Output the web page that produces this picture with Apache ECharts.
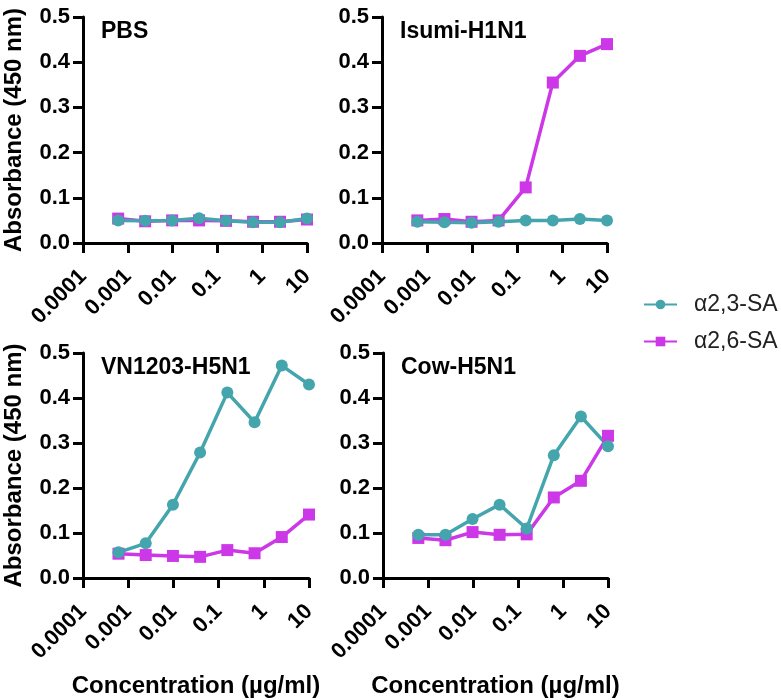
<!DOCTYPE html>
<html>
<head>
<meta charset="utf-8">
<script src="https://cdn.jsdelivr.net/npm/echarts@6/dist/echarts.min.js"></script>
<style>
  html, body { margin: 0; padding: 0; background: #fff; }
  #chart { width: 781px; height: 700px; }
</style>
</head>
<body>
<div id="chart"></div>
<script>
// 4-fold dilutions, ug/ml
const conc = [0.00061, 0.00244, 0.00977, 0.039, 0.156, 0.625, 2.5, 10];

const panels = ['PBS', 'Isumi-H1N1', 'VN1203-H5N1', 'Cow-H5N1'];

// α2,3-SA
const sa23 = [
  [0.050, 0.049, 0.050, 0.055, 0.049, 0.046, 0.046, 0.054],
  [0.047, 0.046, 0.045, 0.047, 0.050, 0.050, 0.053, 0.050],
  [0.057, 0.077, 0.163, 0.279, 0.412, 0.346, 0.472, 0.430],
  [0.096, 0.096, 0.131, 0.163, 0.110, 0.273, 0.359, 0.293]
];
// α2,6-SA
const sa26 = [
  [0.054, 0.048, 0.050, 0.050, 0.049, 0.047, 0.047, 0.052],
  [0.050, 0.053, 0.047, 0.050, 0.123, 0.355, 0.414, 0.440],
  [0.054, 0.051, 0.049, 0.047, 0.062, 0.055, 0.091, 0.141],
  [0.089, 0.084, 0.102, 0.096, 0.097, 0.179, 0.216, 0.316]
];

const teal = '#45a5ad';
const magenta = '#cc38e8';
const font = '"Liberation Sans", Arial, sans-serif';

const grids = [
  { left: 83, top: 17, width: 224, height: 226 },
  { left: 382, top: 17, width: 225, height: 226 },
  { left: 83, top: 353, width: 226, height: 225 },
  { left: 383, top: 353, width: 225, height: 225 }
];

const axisLine = { show: true, lineStyle: { color: '#000', width: 3 } };
const axisTick = { show: true, length: 10, lineStyle: { color: '#000', width: 3 } };
const labelStyle = { color: '#000', fontWeight: 'bold', fontSize: 22, fontFamily: font };
const nameStyle = { color: '#000', fontWeight: 'bold', fontSize: 24, fontFamily: font };

const xAxis = grids.map((g, i) => ({
  type: 'log',
  gridIndex: i,
  logBase: 10,
  min: 0.0001,
  max: 10,
  interval: 1,
  axisLine: axisLine,
  axisTick: axisTick,
  splitLine: { show: false },
  minorTick: { show: false },
  axisLabel: Object.assign({}, labelStyle, {
    rotate: 45,
    margin: 30,
    formatter: v => String(+(+v).toPrecision(1))
  }),
  name: i >= 2 ? 'Concentration (µg/ml)' : '',
  nameLocation: 'middle',
  nameGap: 96,
  nameTextStyle: nameStyle
}));

const yAxis = grids.map((g, i) => ({
  type: 'value',
  gridIndex: i,
  min: 0,
  max: 0.5,
  interval: 0.1,
  axisLine: axisLine,
  axisTick: axisTick,
  splitLine: { show: false },
  axisLabel: Object.assign({}, labelStyle, {
    margin: 13,
    formatter: v => v.toFixed(1)
  }),
  name: i % 2 === 0 ? 'Absorbance (450 nm)' : '',
  nameLocation: 'middle',
  nameGap: 57,
  nameTextStyle: nameStyle
}));

const series = [];
panels.forEach((p, i) => {
  series.push({
    name: 'α2,6-SA',
    type: 'line',
    xAxisIndex: i,
    yAxisIndex: i,
    data: conc.map((c, k) => [c, sa26[i][k]]),
    symbol: 'rect',
    symbolSize: 12,
    itemStyle: { color: magenta },
    lineStyle: { color: magenta, width: 3.5 },
    animation: false
  });
  series.push({
    name: 'α2,3-SA',
    type: 'line',
    xAxisIndex: i,
    yAxisIndex: i,
    data: conc.map((c, k) => [c, sa23[i][k]]),
    symbol: 'circle',
    symbolSize: 12,
    itemStyle: { color: teal },
    lineStyle: { color: teal, width: 3.5 },
    animation: false
  });
});

const titles = panels.map((p, i) => ({
  text: p,
  left: grids[i].left + 13,
  top: grids[i].top - 2,
  textStyle: { color: '#000', fontWeight: 'bold', fontSize: 23, fontFamily: font }
}));

const chart = echarts.init(document.getElementById('chart'));
chart.setOption({
  backgroundColor: '#fff',
  animation: false,
  title: titles,
  grid: grids,
  xAxis: xAxis,
  yAxis: yAxis,
  legend: {
    orient: 'vertical',
    left: 638,
    top: 288,
    itemWidth: 33,
    itemHeight: 12,
    itemGap: 14,
    data: ['α2,3-SA', 'α2,6-SA'],
    textStyle: { color: '#222', fontSize: 23, fontFamily: font, padding: [0, 0, 0, 12] }
  },
  series: series
});
</script>
</body>
</html>
